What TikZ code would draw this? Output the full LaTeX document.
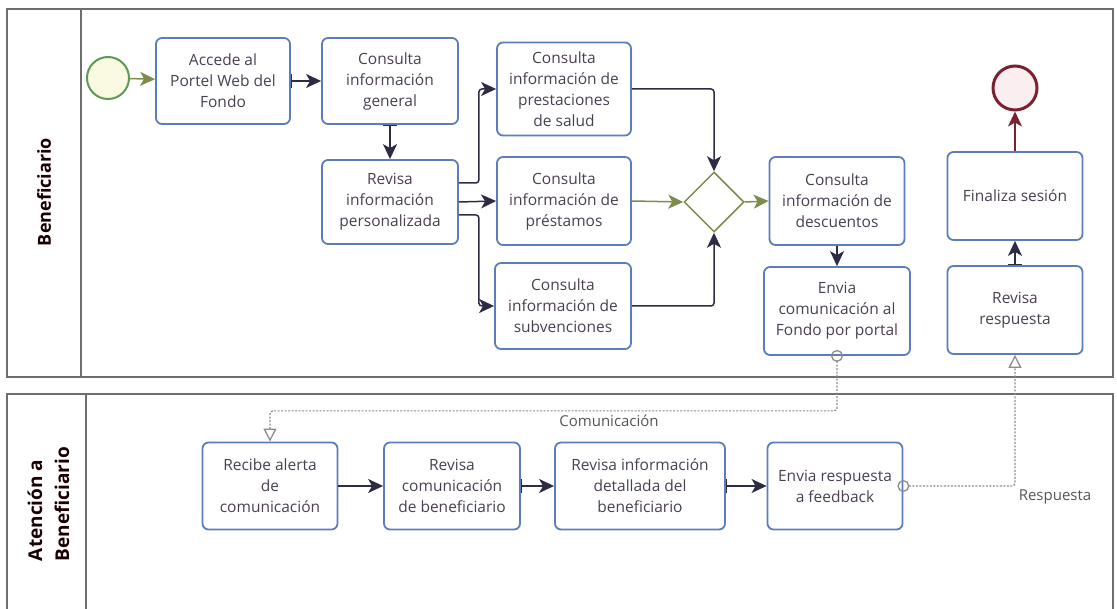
\documentclass[tikz,border=0pt]{standalone}
\usepackage{fontspec}
\setmainfont{Open Sans}
\usetikzlibrary{arrows.meta,shapes.geometric}
\definecolor{taskblue}{HTML}{5B7DBE}
\definecolor{tasktext}{HTML}{4A4050}
\definecolor{poolgray}{HTML}{6E6E6E}
\definecolor{flowdark}{HTML}{2E2C45}
\definecolor{startgreen}{HTML}{5E9A55}
\definecolor{startfill}{HTML}{FAFAE2}
\definecolor{gwgreen}{HTML}{7C8C4C}
\definecolor{endred}{HTML}{7A2232}
\definecolor{endfill}{HTML}{FBEEF0}
\definecolor{msggray}{HTML}{8C8C8C}
\definecolor{labelgray}{HTML}{555555}
\begin{document}
\begin{tikzpicture}[x=1pt,y=-1pt,
  pool/.style={draw=poolgray, line width=1.4pt},
  lanelabel/.style={text=black!90!red, align=left},
  task/.style={draw=taskblue, line width=1.8pt, rounded corners=6pt, fill=white,
    align=center, text=tasktext, inner sep=2pt,
    font=\fontsize{15.5}{21}\selectfont},
  seq/.style={draw=flowdark, line width=1.5pt, rounded corners=3pt, -{Stealth[length=15pt,width=14pt,inset=4pt]}},
  seqbar/.style={seq, {Bar[width=14pt,line width=1.5pt]}-{Stealth[length=15pt,width=14pt,inset=4pt]}},
  seqgreen/.style={draw=gwgreen, line width=1.5pt, -{Stealth[length=15pt,width=14pt,inset=4pt]}},
  msg/.style={draw=msggray, line width=1.2pt, dash pattern=on 2pt off 1.5pt, rounded corners=3pt,
    {Circle[open,length=12pt,width=12pt,line width=1.3pt,sep=-6pt]}-{Triangle[open,length=13pt,width=13pt,line width=1.3pt]}},
  msglabel/.style={text=labelgray, font=\fontsize{15}{18}\selectfont}
]
\useasboundingbox (0,0) rectangle (1117,609);

% pools and their header columns
\draw[pool] (7,9) rectangle (1113,377);
\draw[pool] (81,9) -- (81,377);
\draw[pool] (7,609) -- (7,394) -- (1113,394) -- (1113,609);
\draw[pool] (86,394) -- (86,609);
\node[lanelabel, rotate=90, font=\fontsize{18}{27}\selectfont\bfseries] (lane1) at (44,192) {Beneficiario};
\node[lanelabel, rotate=90, font=\fontsize{19}{27}\selectfont\bfseries] (lane2) at (48.5,504) {Atención a\\Beneficiario};

% events and gateway
\node[circle, draw=startgreen, fill=startfill, line width=2pt, minimum size=42pt, inner sep=0pt] (start) at (108,78) {};
\node[circle, draw=endred, fill=endfill, line width=3pt, minimum size=44pt, inner sep=0pt] (end) at (1015,88) {};
\node[diamond, draw=gwgreen, line width=1.5pt, fill=white, minimum width=60pt, minimum height=60pt, inner sep=0pt] (gw) at (714,202) {};

% tasks of the first pool
\node[task, minimum width=134pt, minimum height=86pt] (accede) at (223,81) {Accede al\\Portel Web del\\Fondo};
\node[task, minimum width=136pt, minimum height=86pt] (general) at (390,81) {Consulta\\información\\general};
\node[task, minimum width=136pt, minimum height=84pt] (revisa) at (390,202) {Revisa\\información\\personalizada};
\node[task, minimum width=134pt, minimum height=93pt] (prest) at (564,89) {Consulta\\información de\\prestaciones\\de salud};
\node[task, minimum width=134pt, minimum height=88pt] (prestamo) at (564,201) {Consulta\\información de\\préstamos};
\node[task, minimum width=136pt, minimum height=86pt] (subv) at (563,306) {Consulta\\información de\\subvenciones};
\node[task, minimum width=135pt, minimum height=88pt] (desc) at (837,201) {Consulta\\información de\\descuentos};
\node[task, minimum width=146pt, minimum height=88pt] (envia) at (837,311) {Envia\\comunicación al\\Fondo por portal};
\node[task, minimum width=135pt, minimum height=88pt] (fin) at (1015,196) {Finaliza sesión};
\node[task, minimum width=135pt, minimum height=88pt] (revresp) at (1015,310) {Revisa\\respuesta};

% tasks of the second pool
\node[task, minimum width=135pt, minimum height=87pt] (recibe) at (270,486) {Recibe alerta\\de\\comunicación};
\node[task, minimum width=136pt, minimum height=87pt] (revcom) at (452,486) {Revisa\\comunicación\\de beneficiario};
\node[task, minimum width=170pt, minimum height=87pt] (detall) at (640,486) {Revisa información\\detallada del\\beneficiario};
\node[task, minimum width=135pt, minimum height=87pt] (envresp) at (835,486) {Envia respuesta\\a feedback};

% sequence flows
\draw[seqgreen] (start) -- (accede);
\draw[seqbar] (accede) -- (general);
\draw[seqbar] (general) -- (revisa);
\draw[seq] ([yshift=19pt]revisa.east) -- ++(20,0) |- (prest.west);
\draw[seq] (revisa.east) -- (prestamo.west);
\draw[seq] ([yshift=-13pt]revisa.east) -- ++(20,0) |- (subv.west);
\draw[seq] (prest.east) -| (gw.north);
\draw[seq] (subv.east) -| (gw.south);
\draw[seqgreen] (prestamo.east) -- (gw.west);
\draw[seqgreen] (gw.east) -- (desc.west);
\draw[seq] (desc) -- (envia);
\draw[seqbar] (revresp) -- (fin);
\draw[seq, draw=endred] (fin) -- (end);
\draw[seq] (recibe) -- (revcom);
\draw[seqbar] (revcom) -- (detall);
\draw[seqbar] (detall) -- (envresp);

% message flows between the pools
\draw[msg] (envia.south) -- ++(0,55) -| (recibe.north);
\draw[msg] (envresp.east) -| (revresp.south);
\node[msglabel] (lblcom) at (609,421) {Comunicación};
\node[msglabel] (lblresp) at (1055,497) {Respuesta};
\end{tikzpicture}
\end{document}
